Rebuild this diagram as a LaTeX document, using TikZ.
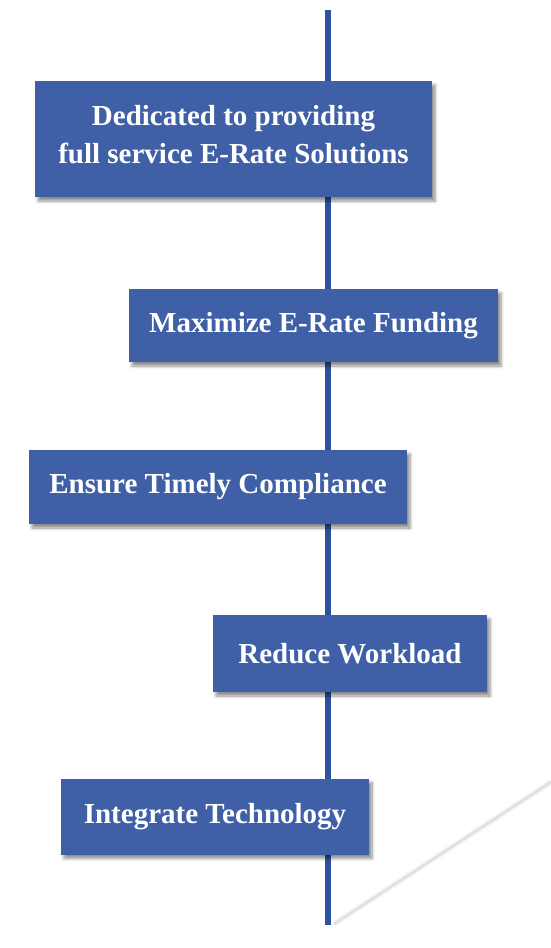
\documentclass[tikz,border=0pt]{standalone}
\usepackage{fontspec}
\setmainfont{Liberation Serif}
\usepackage{tikz}
\usetikzlibrary{shadows, shadows.blur, backgrounds}
\usepackage{xcolor}
\definecolor{boxblue}{RGB}{63,96,167}
\definecolor{spineblue}{RGB}{45,82,160}

\tikzset{
  stepbox/.style={fill=boxblue, text=white, inner sep=0pt, align=center,
    font=\fontsize{29}{38}\selectfont\bfseries,
    blur shadow={shadow xshift=3pt, shadow yshift=-4pt, shadow blur steps=6,
      shadow blur radius=3pt, shadow opacity=45}},
}

\begin{document}
\begin{tikzpicture}[x=1pt, y=-1pt]
  \useasboundingbox (0,0) rectangle (551,948);

  \node[stepbox, minimum width=397pt, minimum height=116pt] (dedicated) at (233.5,139)
    {Dedicated to providing\\full service E-Rate Solutions\\[-28pt]};
  \node[stepbox, minimum width=369pt, minimum height=73pt] (funding) at (313.5,325.5)
    {Maximize E-Rate Funding};
  \node[stepbox, minimum width=378pt, minimum height=74pt] (compliance) at (218,487)
    {Ensure Timely Compliance};
  \node[stepbox, minimum width=274pt, minimum height=77pt] (workload) at (350,653.5)
    {Reduce Workload};
  \node[stepbox, minimum width=308pt, minimum height=76pt] (technology) at (215,816.5)
    {Integrate Technology};

  \coordinate (top) at (328,10);
  \coordinate (bottom) at (328,925);
  \coordinate (glint end) at (551,782);
  \coordinate (glint start) at (334,924);

  \begin{scope}[on background layer]
    % faint reflection
    \draw[line width=6pt, black!10, opacity=0.4] (glint start) -- (glint end);
    \draw[line width=2.5pt, black!20, opacity=0.5] (glint start) -- (glint end);
    \draw[line width=6pt, spineblue] (top) -- (bottom);
  \end{scope}
\end{tikzpicture}
\end{document}
